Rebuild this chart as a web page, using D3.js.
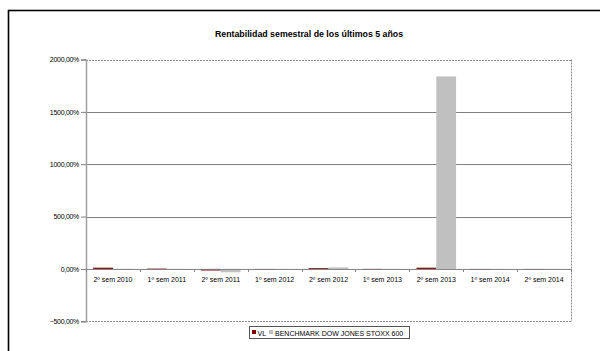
<!DOCTYPE html>
<html><head><meta charset="utf-8">
<script src="https://cdn.jsdelivr.net/npm/d3@7"></script>
<style>body{margin:0;background:#fff}svg{display:block;font-family:Arial,"Liberation Sans",sans-serif}</style>
</head><body><svg id="c" width="600" height="351"></svg>
<script>
const categories = ["2º sem 2010","1º sem 2011","2º sem 2011","1º sem 2012","2º sem 2012","1º sem 2013","2º sem 2013","1º sem 2014","2º sem 2014"];
const seriesNames = ["VL","BENCHMARK DOW JONES STOXX 600"];
const vlValues = [12, 3, -15, -5, 8, 0.5, 12, 0, -4];
const benchValues = [1, -3, -32, -2, 15, -3, 1838, 0, -3];
const yTicks = [-500, 0, 500, 1000, 1500, 2000];
const colors = ["#800000", "#c0c0c0"];

const svg = d3.select("#c");
const m = {l: 86, r: 571, t: 59.5, b: 321.3};
// outer frame
svg.append("rect").attr("x", 8.5).attr("y", 10.5).attr("width", 610).attr("height", 360)
  .attr("fill", "none").attr("stroke", "#000").attr("stroke-width", 1.6);
svg.append("text").attr("x", 309).attr("y", 37).attr("text-anchor", "middle")
  .attr("font-size", 8.8).attr("font-weight", "bold").attr("fill", "#000")
  .text("Rentabilidad semestral de los últimos 5 años");

const y = d3.scaleLinear().domain([-500, 2000]).range([m.b, m.t]);
const x = d3.scaleBand().domain(categories).range([m.l, m.r]);
const x1 = d3.scaleBand().domain([0,1]).range([0, x.bandwidth()]).paddingOuter(0.36).paddingInner(0);

// gridlines
yTicks.forEach(t => {
  if (t === 0) return;
  const dashed = (t === 2000 || t === -500);
  svg.append("line").attr("x1", m.l).attr("x2", m.r).attr("y1", Math.round(y(t))+0.5).attr("y2", Math.round(y(t))+0.5)
    .attr("stroke", dashed ? "#888" : "#808080").attr("stroke-width", 1)
    .attr("stroke-dasharray", dashed ? "2,1" : null);
});
// right dashed border
svg.append("line").attr("x1", m.r+0.5).attr("x2", m.r+0.5).attr("y1", m.t).attr("y2", m.b)
  .attr("stroke", "#888").attr("stroke-dasharray", "2,1");

// bars
const data = categories.map((c, i) => ({c, v: [vlValues[i], benchValues[i]]}));
const g = svg.append("g");
data.forEach(d => {
  d.v.forEach((v, k) => {
    const y0 = y(0), yv = y(v);
    g.append("rect").attr("x", x(d.c) + x1(k)).attr("width", x1.bandwidth())
      .attr("y", Math.min(y0, yv)).attr("height", Math.max(Math.abs(yv - y0), 0.8))
      .attr("fill", colors[k]);
  });
});

// y axis
const yAxis = d3.axisLeft(y).tickValues(yTicks).tickSize(5).tickPadding(2)
  .tickFormat(d => d3.format(".2f")(d).replace(".", ",") + "%");
const ya = svg.append("g").attr("transform", `translate(${m.l},0)`).call(yAxis);
ya.select(".domain").attr("stroke", "#a0a0a0").attr("stroke-width", 1.5);
ya.selectAll(".tick line").attr("stroke", "#808080");
ya.selectAll(".tick text").attr("font-size", 7).attr("fill", "#000").attr("font-family", "Arial, 'Liberation Sans', sans-serif").attr("letter-spacing", -0.3);

// x axis at zero
const xAxis = d3.axisBottom(x).tickSize(0).tickPadding(8);
const xa = svg.append("g").attr("transform", `translate(0,${y(0)})`).call(xAxis);
xa.select(".domain").attr("stroke", "#808080").attr("stroke-width", 1);
xa.selectAll(".tick text").attr("font-size", 7).attr("fill", "#000").attr("font-family", "Arial, 'Liberation Sans', sans-serif");
// category boundary ticks
categories.concat([null]).forEach((c, i) => {
  const xx = Math.round(m.l + i * x.bandwidth()) + 0.5;
  xa.append("line").attr("x1", xx).attr("x2", xx).attr("y1", 0).attr("y2", 3).attr("stroke", "#808080");
});

// legend
const lg = svg.append("g");
lg.append("rect").attr("x", 249.5).attr("y", 326.5).attr("width", 160).attr("height", 12)
  .attr("fill", "#fff").attr("stroke", "#555");
const items = [{x: 252, tx: 257.5}, {x: 269, tx: 275}];
seriesNames.forEach((s, k) => {
  lg.append("rect").attr("x", items[k].x).attr("y", 330).attr("width", 4).attr("height", 4).attr("fill", colors[k]);
  lg.append("text").attr("x", items[k].tx).attr("y", 335.5).attr("font-size", 7).attr("fill", "#000").text(s);
});
</script></body></html>
